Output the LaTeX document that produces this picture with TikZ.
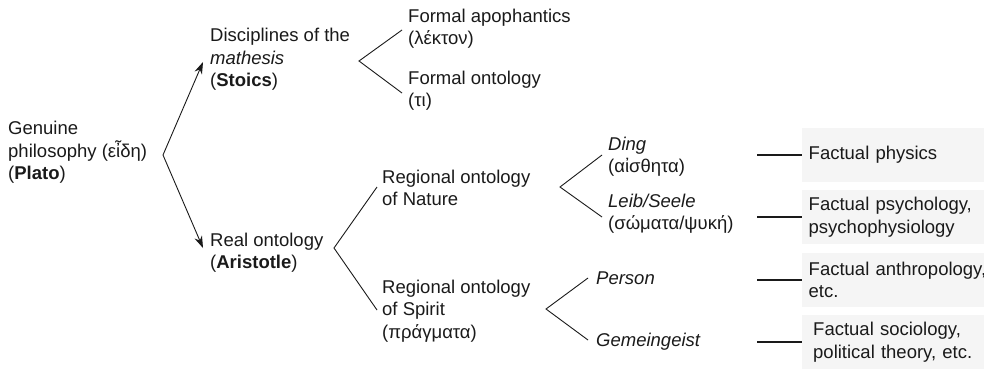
\documentclass[tikz,border=0pt]{standalone}
\usepackage{fontspec}
\setmainfont{Liberation Sans}
\usetikzlibrary{arrows.meta}
\definecolor{boxgray}{HTML}{F5F5F5}
\definecolor{ink}{HTML}{1A1A1A}
\hyphenpenalty=10000
\exhyphenpenalty=10000
\begin{document}
\begin{tikzpicture}[x=1pt,y=-1pt,
  font=\fontsize{18.5}{22.5}\selectfont,
  txt/.style={anchor=base west, inner sep=0pt, align=left, text=ink},
  fbox/.style={anchor=west, fill=boxgray, draw=none, minimum width=182pt,
    minimum height=54pt, text width=190pt, inner xsep=6.5pt, inner ysep=0pt,
    align=left, text=ink},
  branch/.style={draw=ink, line width=0.9pt},
  arr/.style={draw=ink, line width=0.9pt, -{Stealth[length=12pt,width=8pt]}},
  hline/.style={draw=ink, line width=1.6pt}]
\useasboundingbox (0,0) rectangle (984,368);

% text nodes (anchor = baseline of the last line)
\node[txt] (gen) at (8,179.5) {Genuine\\philosophy (εἶδη)\\(\textbf{Plato})};
\node[txt] (disc) at (210,86.5) {Disciplines of the\\\textit{mathesis}\\(\textbf{Stoics})};
\node[txt] (fapo) at (408,44.5) {Formal apophantics\\(λέκτον)};
\node[txt] (fonto) at (408,106.5) {Formal ontology\\(τι)};
\node[txt] (real) at (210,268.5) {Real ontology\\(\textbf{Aristotle})};
\node[txt] (nat) at (382,205.5) {Regional ontology\\of Nature};
\node[txt] (spi) at (382,338) {Regional ontology\\of Spirit\\(πράγματα)};
\node[txt] (ding) at (608,172.5) {\textit{Ding}\\(αἰσθητα)};
\node[txt] (leib) at (608,229.5) {\textit{Leib/Seele}\\(σώματα/ψυκή)};
\node[txt] (pers) at (596,284) {\textit{Person}};
\node[txt] (gem) at (596,346) {\textit{Gemeingeist}};

% boxes
\node[fbox] (b1) at (802,155) {Factual physics};
\node[fbox] (b2) at (802,217) {Factual psychology,\\psychophysiology};
\node[fbox] (b3) at (802,280) {Factual anthropology,\\etc.};
\node[fbox, inner xsep=11pt, text width=181pt] (b4) at (802,342) {Factual sociology,\\political theory, etc.};

% fork coordinates
\coordinate (f0) at (163,155);
\coordinate (t0a) at (203,62);
\coordinate (t0b) at (203,248);
\coordinate (f1) at (359,61);
\coordinate (t1a) at (402,30);
\coordinate (t1b) at (402,93);
\coordinate (f2) at (334,248);
\coordinate (t2a) at (377,187);
\coordinate (t2b) at (377,310);
\coordinate (f3) at (560,187);
\coordinate (t3a) at (602,155);
\coordinate (t3b) at (602,217);
\coordinate (f4) at (546,309);
\coordinate (t4a) at (588,278);
\coordinate (t4b) at (588,340);
\coordinate (h1) at (757,155);
\coordinate (h2) at (757,217);
\coordinate (h3) at (757,280);
\coordinate (h4) at (757,342);

% connectors
\draw[arr] (f0) -- (t0a);
\draw[arr] (f0) -- (t0b);
\draw[branch] (t1a) -- (f1) -- (t1b);
\draw[branch] (t2a) -- (f2) -- (t2b);
\draw[branch] (t3a) -- (f3) -- (t3b);
\draw[branch] (t4a) -- (f4) -- (t4b);
\draw[hline] (h1) -- (b1.west);
\draw[hline] (h2) -- (b2.west);
\draw[hline] (h3) -- (b3.west);
\draw[hline] (h4) -- (b4.west);
\end{tikzpicture}
\end{document}
